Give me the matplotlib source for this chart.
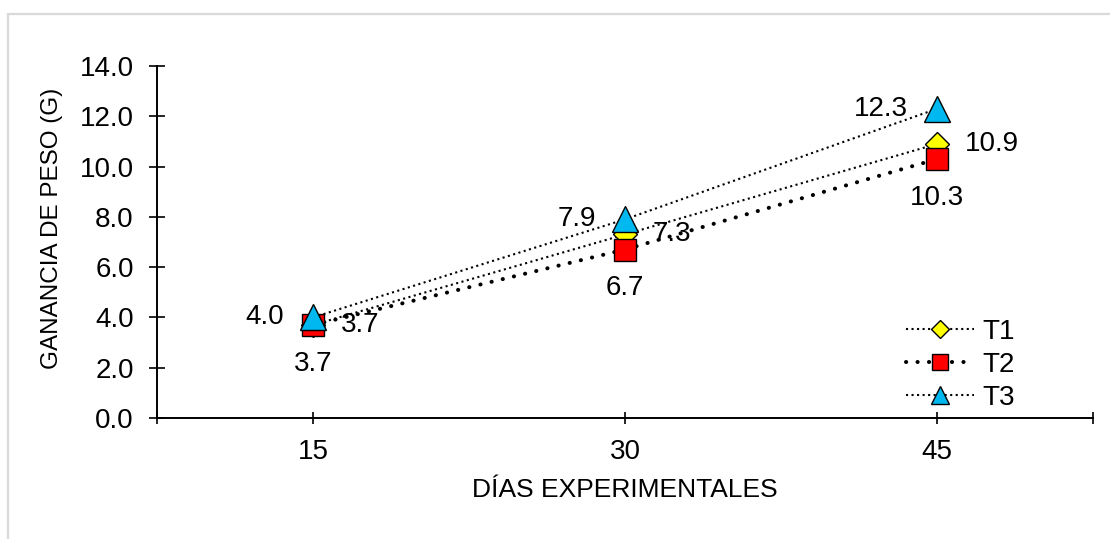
import matplotlib.pyplot as plt
from matplotlib.patches import Rectangle

# Data
dias = [15, 30, 45]
t1 = [3.7, 7.3, 10.9]
t2 = [3.7, 6.7, 10.3]
t3 = [4.0, 7.9, 12.3]
y_ticks = [0, 2, 4, 6, 8, 10, 12, 14]

plt.rcParams['font.family'] = ['Liberation Sans', 'DejaVu Sans']
fs = 20

fig = plt.figure(figsize=(11.1, 5.39), dpi=100)
ax = fig.add_axes([157 / 1110, 1 - 418 / 539, (1093 - 157) / 1110, (418 - 66) / 539])

# light gray chart frame (left and top visible)
fig.patches.append(Rectangle((8 / 1110, -0.2), 1.2, 1.2 - 14 / 539,
                             transform=fig.transFigure, fill=False,
                             edgecolor='#d9d9d9', linewidth=1.6))

# Series
ax.plot(dias, t1, linestyle=':', linewidth=1.5, color='black',
        marker='D', markersize=12.5, markerfacecolor='#ffff00',
        markeredgecolor='black', markeredgewidth=1, label='T1', zorder=3)
ax.plot(dias, t2, linestyle=(0, (0.05, 2.8)), linewidth=2.9, color='black',
        dash_capstyle='round', marker='s', markersize=16,
        markerfacecolor='#ff0000', markeredgecolor='black',
        markeredgewidth=1, label='T2', zorder=4)
ax.plot(dias, t3, linestyle=':', linewidth=1.5, color='black',
        marker='^', markersize=19, markerfacecolor='#00b8f0',
        markeredgecolor='black', markeredgewidth=1, label='T3', zorder=5)

# Data labels
for x, v in zip(dias, t1):
    ax.annotate(f'{v:.1f}', (x, v), xytext=(20, 0), textcoords='offset points',
                ha='left', va='center', fontsize=fs, zorder=6)
for x, v in zip(dias, t2):
    ax.annotate(f'{v:.1f}', (x, v), xytext=(0, -28), textcoords='offset points',
                ha='center', va='center', fontsize=fs, zorder=6)
for x, v in zip(dias, t3):
    ax.annotate(f'{v:.1f}', (x, v), xytext=(-21, 0), textcoords='offset points',
                ha='right', va='center', fontsize=fs, zorder=6)

# Axes
ax.set_xlim(7.5, 52.5)
ax.set_ylim(0, 14)
ax.set_xticks(dias)
ax.set_xticks([7.5, 52.5], minor=True)
ax.set_yticks(y_ticks)
ax.set_yticklabels([f'{v:.1f}' for v in y_ticks])
ax.tick_params(axis='y', which='major', direction='inout', length=11.5,
               width=1.2, labelsize=fs, pad=11)
ax.tick_params(axis='x', which='major', direction='inout', length=8.5,
               width=1.2, labelsize=fs, pad=11)
ax.tick_params(axis='x', which='minor', direction='inout', length=8.5, width=1.2)

for s in ['top', 'right']:
    ax.spines[s].set_visible(False)
for s in ['left', 'bottom']:
    ax.spines[s].set_linewidth(1.4)

ax.set_xlabel('DÍAS EXPERIMENTALES', fontsize=19, labelpad=9)
ax.set_ylabel('GANANCIA DE PESO (G)', fontsize=17.5)
ax.yaxis.set_label_coords(-0.1, 0.54)

ax.legend(loc='lower right', bbox_to_anchor=(0.917, 0.02), frameon=False,
          fontsize=fs, handlelength=2.45, handletextpad=0.3, labelspacing=0.25,
          borderpad=0, borderaxespad=0, markerscale=0.7)

fig.savefig('out.png', dpi=100)
